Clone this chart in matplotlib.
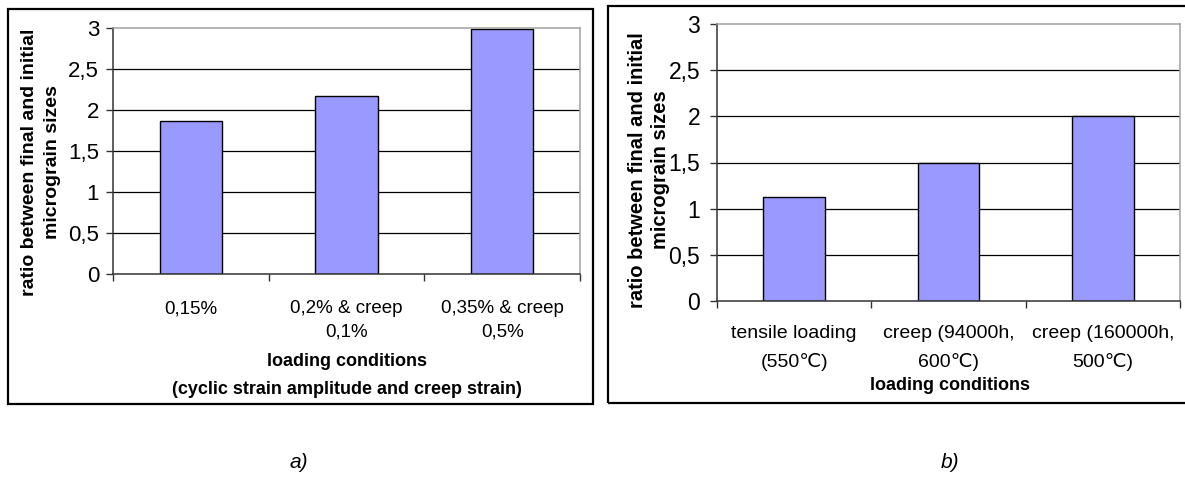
import matplotlib.pyplot as plt
from matplotlib.patches import Rectangle

plt.rcParams['font.family'] = ['Liberation Sans', 'DejaVu Sans']

# data
cats_a = ['0,15%', '0,2% & creep\n0,1%', '0,35% & creep\n0,5%']
vals_a = [1.86, 2.17, 2.99]
cats_b = ['tensile loading\n(550\u2103)', 'creep (94000h,\n600\u2103)', 'creep (160000h,\n500\u2103)']
vals_b = [1.13, 1.50, 2.00]
yticks = [0, 0.5, 1, 1.5, 2, 2.5, 3]
ytick_labels = ['0', '0,5', '1', '1,5', '2', '2,5', '3']

W, H = 1185, 480
fig = plt.figure(figsize=(W / 100, H / 100), dpi=100)


def px_rect(x0, y0, x1, y1):
    # pixel box (top-left origin) -> figure fraction
    return [x0 / W, 1 - y1 / H, (x1 - x0) / W, (y1 - y0) / H]


def bar_panel(rect, cats, vals, xtick_fs, ytick_fs, pad_x, pad_y, ls):
    ax = fig.add_axes(rect)
    x = range(len(cats))
    ax.set_axisbelow(True)
    for y in yticks[1:-1]:
        ax.axhline(y, color='black', lw=0.9, zorder=0)
    ax.bar(x, vals, width=0.4, color='#9999FF', edgecolor='black', linewidth=1, zorder=2)
    ax.set_xlim(-0.5, len(cats) - 0.5)
    ax.set_ylim(0, 3)
    ax.set_yticks(yticks)
    ax.set_yticklabels(ytick_labels, fontsize=ytick_fs)
    ax.set_xticks(list(x))
    ax.set_xticklabels(cats, fontsize=xtick_fs, linespacing=ls)
    ax.set_xticks([i - 0.5 for i in range(len(cats) + 1)], minor=True)
    ax.tick_params(axis='x', which='major', length=0, pad=pad_x)
    ax.tick_params(axis='x', which='minor', length=5, width=1, direction='out', color='#333333')
    ax.tick_params(axis='y', length=5, width=1, direction='out', pad=pad_y, color='#333333')
    for s in ['left', 'bottom']:
        ax.spines[s].set_color('#333333')
        ax.spines[s].set_linewidth(1.1)
    for s in ['top', 'right']:
        ax.spines[s].set_color('#a0a0a0')
        ax.spines[s].set_linewidth(1.1)
    return ax


# panel a
bar_panel(px_rect(113, 28, 580, 274), cats_a, vals_a, 13.5, 16, 19, 5, 1.5)
fig.text(30 / W, 1 - 162 / H, 'ratio between final and initial', rotation=90,
         ha='center', va='center', fontsize=14, fontweight='bold')
fig.text(53 / W, 1 - 162 / H, 'micrograin sizes', rotation=90,
         ha='center', va='center', fontsize=14, fontweight='bold')
fig.text(347 / W, 1 - 362 / H, 'loading conditions', ha='center', va='center',
         fontsize=13, fontweight='bold')
fig.text(347 / W, 1 - 389 / H, '(cyclic strain amplitude and creep strain)', ha='center',
         va='center', fontsize=13, fontweight='bold')

# panel b
bar_panel(px_rect(717, 24, 1180, 301), cats_b, vals_b, 14, 16.5, 17, 7, 1.8)
fig.text(637 / W, 1 - 170 / H, 'ratio between final and initial', rotation=90,
         ha='center', va='center', fontsize=14.5, fontweight='bold')
fig.text(660 / W, 1 - 170 / H, 'micrograin sizes', rotation=90,
         ha='center', va='center', fontsize=14.5, fontweight='bold')
fig.text(950 / W, 1 - 386 / H, 'loading conditions', ha='center', va='center',
         fontsize=13, fontweight='bold')

# frames around the panels
for x0, y0, x1, y1 in [(8, 9, 593, 404), (608, 6, 1192, 403)]:
    fig.patches.append(Rectangle((x0 / W, 1 - y1 / H), (x1 - x0) / W, (y1 - y0) / H,
                                 transform=fig.transFigure, fill=False,
                                 edgecolor='black', linewidth=1.6))

# captions
fig.text(299 / W, 1 - 462 / H, 'a)', ha='center', va='center', fontsize=15, style='italic')
fig.text(950 / W, 1 - 462 / H, 'b)', ha='center', va='center', fontsize=15, style='italic')

fig.savefig('out.png', dpi=100)
